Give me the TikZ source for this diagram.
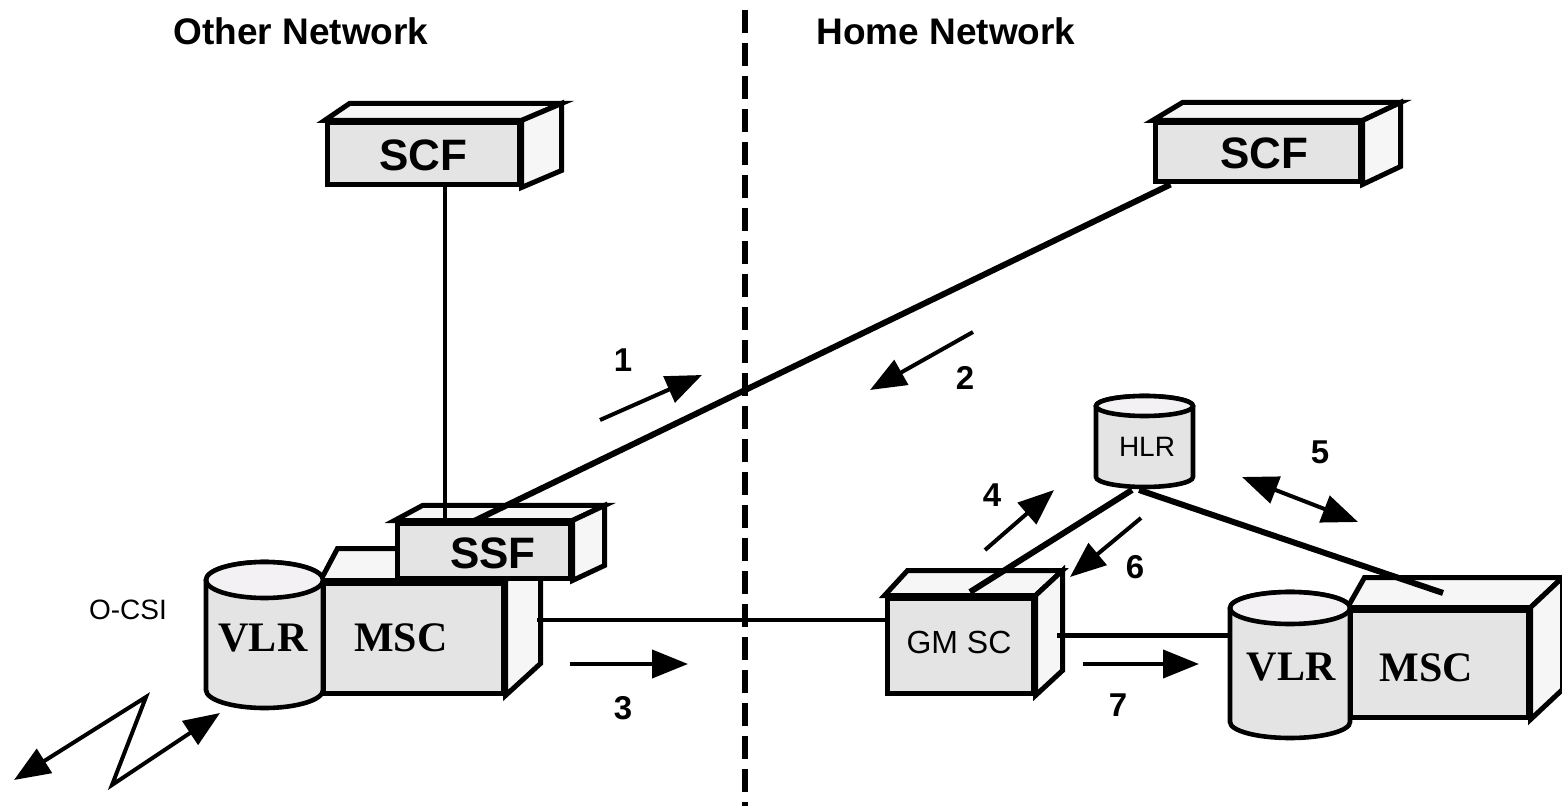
\documentclass[tikz,border=0pt]{standalone}
\usepackage{fontspec}
\setmainfont{Liberation Serif}
\setsansfont{Liberation Sans}
\usetikzlibrary{arrows.meta}
\definecolor{faceg}{HTML}{E4E4E4}
\definecolor{sideg}{HTML}{F6F6F6}
\definecolor{cyltopg}{HTML}{F3F1F3}
\tikzset{
  front/.style={draw=black, fill=faceg, line width=2.5pt, inner sep=0pt, line join=miter},
  side/.style={draw=black, fill=sideg, line width=2.5pt, line join=miter},
  cylbody/.style={draw=black, fill=faceg, line width=2.3pt},
  cyltop/.style={draw=black, fill=cyltopg, line width=2.3pt},
  title/.style={font=\sffamily\bfseries\fontsize{18.5}{20}\selectfont, inner sep=0pt},
  boxlbl/.style={font=\sffamily\bfseries\fontsize{22}{24}\selectfont, inner sep=0pt},
  serlbl/.style={font=\rmfamily\bfseries\fontsize{21}{23}\selectfont, inner sep=0pt},
  smlbl/.style={font=\sffamily\fontsize{14}{16}\selectfont, inner sep=0pt},
  numlbl/.style={font=\sffamily\bfseries\fontsize{16.5}{18}\selectfont, inner sep=0pt},
  link/.style={line width=2pt, black},
  thicklink/.style={line width=3pt, black},
  flow/.style={line width=2pt, black, -{Triangle[length=18pt,width=14pt]}},
  flow2/.style={line width=2pt, black, {Triangle[length=18pt,width=14pt]}-{Triangle[length=18pt,width=14pt]}},
  divider/.style={line width=2.6pt, black, dash pattern=on 11.5pt off 5pt}
}
% top and right faces of a box whose front face is node #1
\newcommand\cubefaces[4]{%
  \draw[side] (#1.north west) -- ++(#2,#4) -- ([shift={(#3,#4)}]#1.north east) -- (#1.north east) -- cycle;
  \draw[side] (#1.north east) -- ++(#3,#4) -- ([shift={(#3,#4)}]#1.south east) -- (#1.south east) -- cycle;
}
% cylinder: name, cx, rx, ytop, ybottom, ry
\newcommand\drumshape[6]{%
  \draw[cylbody] (#2-#3,#4) -- (#2-#3,#5) arc[start angle=180,end angle=0,x radius=#3,y radius=#6] -- (#2+#3,#4) arc[start angle=0,end angle=-180,x radius=#3,y radius=#6] -- cycle;
  \draw[cyltop] (#2,#4) ellipse[x radius=#3,y radius=#6];
  \coordinate (#1) at (#2,#4);
}
\begin{document}
\begin{tikzpicture}[x=0.5pt,y=-0.5pt]
\useasboundingbox[fill=white] (0,0) rectangle (1562,806);

% titles
\node[title] (tOther) at (301,31) {Other Network};
\node[title] (tHome) at (946,31) {Home Network};

% divider
\coordinate (dTop) at (745,10);
\coordinate (dBot) at (745,806);
\draw[divider] (dTop) -- (dBot);

% SCF left
\node[front, minimum width=96pt, minimum height=31pt] (scfL) at (423,154) {};
\cubefaces{scfL}{25}{40}{-17}
\node[boxlbl] (scfLt) at (423,155) {SCF};

% SCF right
\node[front, minimum width=102.5pt, minimum height=29.5pt] (scfR) at (1257.5,152.5) {};
\cubefaces{scfR}{30}{38}{-18}
\node[boxlbl] (scfRt) at (1264,153) {SCF};

% MSC left
\node[front, minimum width=90pt, minimum height=55pt] (mscL) at (413,638) {};
\cubefaces{mscL}{17}{35}{-32}
\node[serlbl] (mscLt) at (401,638) {MSC};

% SSF
\node[front, minimum width=86.5pt, minimum height=27.5pt] (ssf) at (483.5,550.5) {};
\cubefaces{ssf}{28}{32}{-15}
\node[boxlbl] (ssft) at (493,553) {SSF};

% VLR left
\drumshape{vlrL}{264.5}{58.5}{580}{690}{18}
\node[serlbl] (vlrLt) at (263,638) {VLR};

\node[smlbl] (ocsi) at (128,610) {O-CSI};

% GMSC
\node[front, minimum width=73pt, minimum height=47.5pt] (gmsc) at (960,645.5) {};
\cubefaces{gmsc}{23}{27}{-25}
\node[font=\sffamily\fontsize{16}{18}\selectfont, inner sep=0pt] (gmsct) at (959,642) {GM SC};

% MSC right
\node[front, minimum width=89pt, minimum height=53.5pt] (mscR) at (1439,663.5) {};
\cubefaces{mscR}{17}{32}{-30}
\node[serlbl] (mscRt) at (1426,668) {MSC};

% VLR right
\drumshape{vlrR}{1290}{60}{608}{722}{16}
\node[serlbl] (vlrRt) at (1291,667) {VLR};

% HLR
\drumshape{hlr}{1144.5}{48.5}{406}{477}{10}
\node[smlbl] (hlrt) at (1147,447) {HLR};

% connectors
\coordinate (v1) at (445,523);
\draw[link] (v1 |- scfL.south) -- (v1);
\coordinate (d1) at (470,523);
\draw[thicklink] (d1) -- ([xshift=9pt]scfR.south west);
\coordinate (m1) at (537,620);
\draw[link] (m1) -- (m1 -| gmsc.west);
\coordinate (g1) at (1057,635);
\coordinate (vr1) at (1230,635);
\draw[line width=2.5pt] (g1) -- (vr1);
\coordinate (h1) at (1132,490);
\coordinate (h2) at (1139,490);
\coordinate (gtop) at (970,592);
\coordinate (mtop) at (1443,593);
\draw[thicklink] (h1) -- (gtop);
\draw[thicklink] (h2) -- (mtop);

% flow arrows
\coordinate (a1s) at (600,420); \coordinate (a1e) at (702,375);
\draw[flow] (a1s) -- (a1e);
\coordinate (a2s) at (973,332); \coordinate (a2e) at (870,390);
\draw[flow] (a2s) -- (a2e);
\coordinate (a3s) at (570,664); \coordinate (a3e) at (688,664);
\draw[flow] (a3s) -- (a3e);
\coordinate (a4s) at (985,550); \coordinate (a4e) at (1054,490);
\draw[flow] (a4s) -- (a4e);
\coordinate (a5s) at (1242,477); \coordinate (a5e) at (1358,522);
\draw[flow2] (a5s) -- (a5e);
\coordinate (a6s) at (1141,518); \coordinate (a6e) at (1070,577);
\draw[flow] (a6s) -- (a6e);
\coordinate (a7s) at (1083,664); \coordinate (a7e) at (1199,664);
\draw[flow] (a7s) -- (a7e);

% radio zigzag
\coordinate (z0) at (14,780);
\coordinate (z1) at (146,697);
\coordinate (z2) at (112,785);
\coordinate (z3) at (220,713);
\draw[flow2, line join=miter] (z0) -- (z1) -- (z2) -- (z3);

% numbers
\node[numlbl] (n1) at (623,360) {1};
\node[numlbl] (n2) at (965,378) {2};
\node[numlbl] (n3) at (623,708) {3};
\node[numlbl] (n4) at (992,495) {4};
\node[numlbl] (n5) at (1320,452) {5};
\node[numlbl] (n6) at (1135,567) {6};
\node[numlbl] (n7) at (1118,705) {7};
\end{tikzpicture}
\end{document}
